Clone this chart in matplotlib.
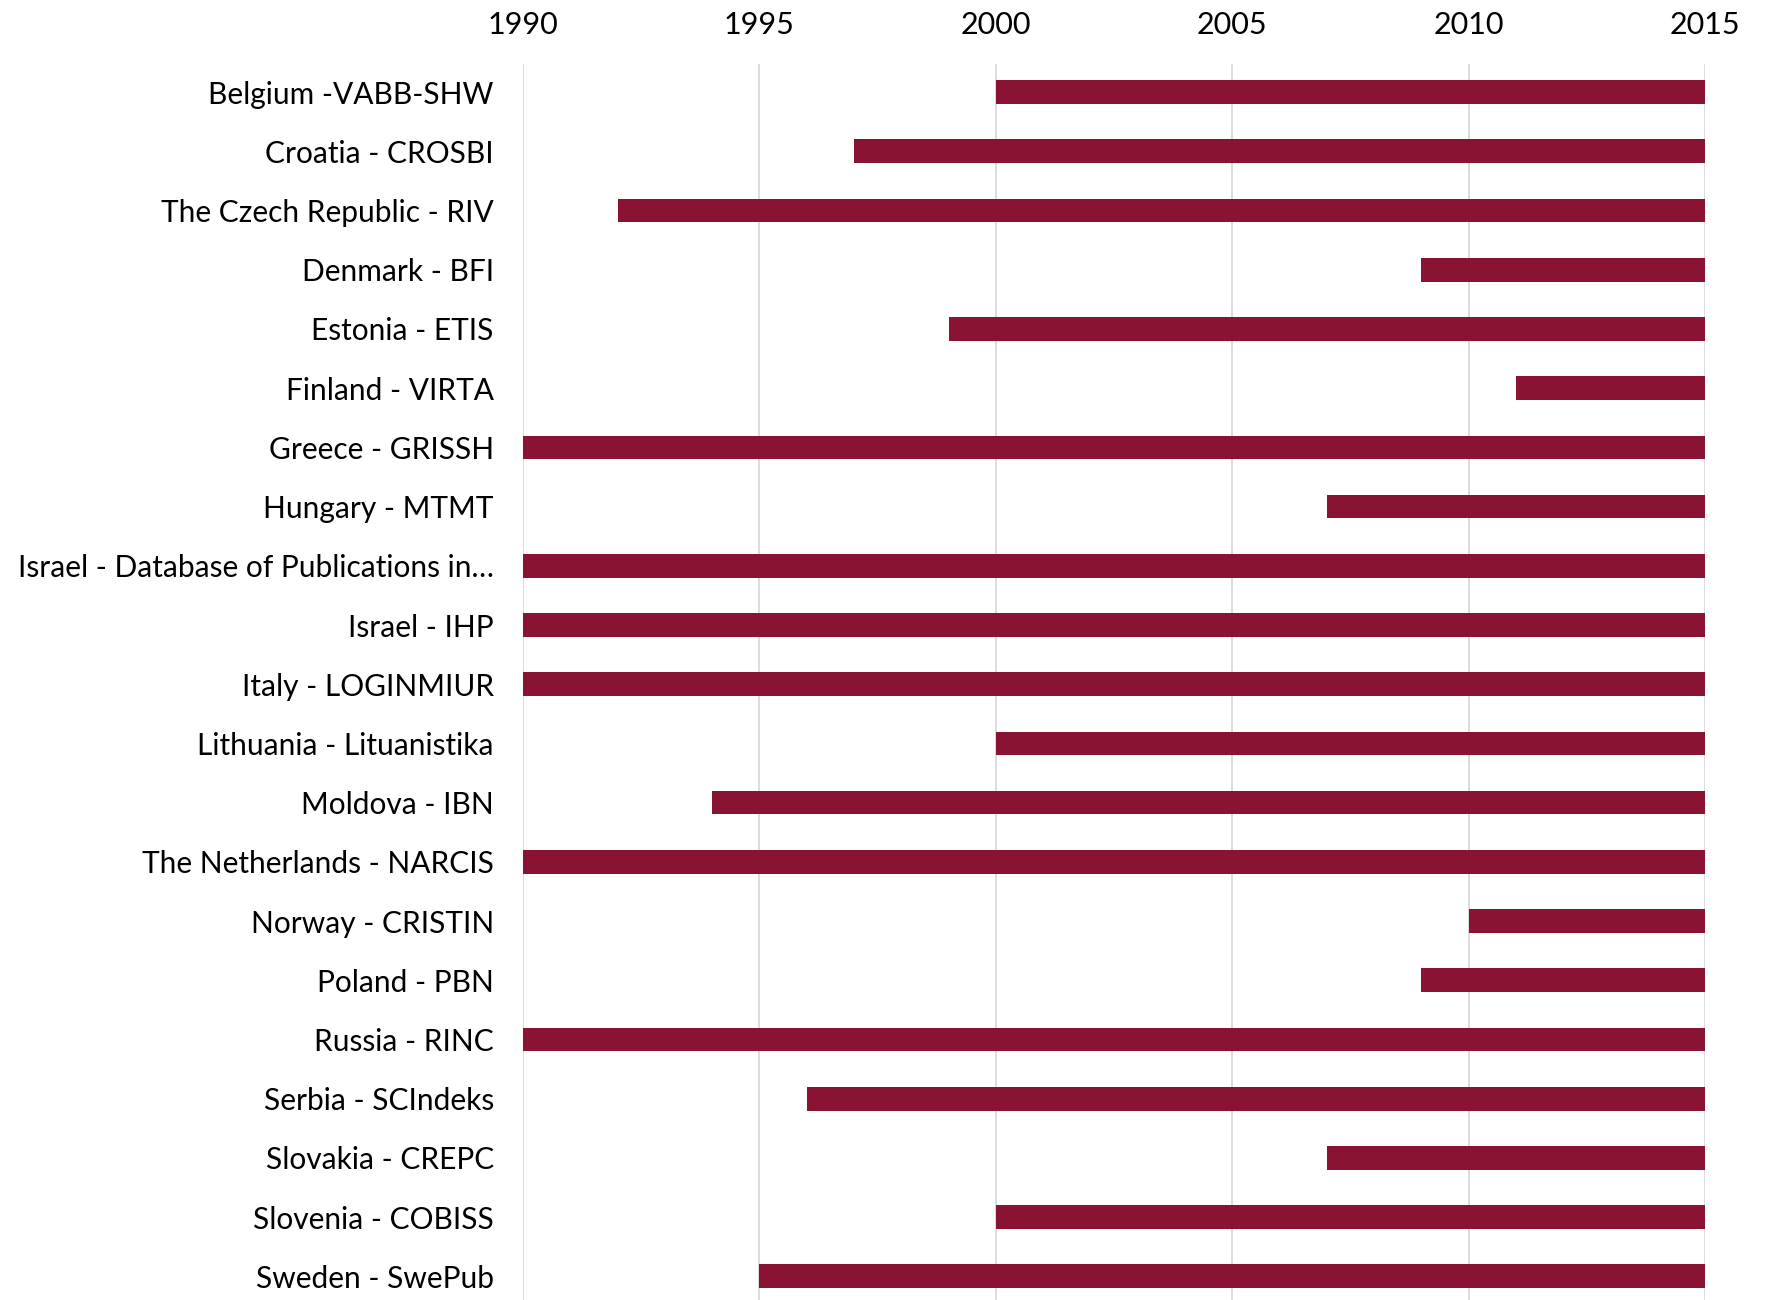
import numpy as np
import matplotlib
matplotlib.use("Agg")
import matplotlib.pyplot as plt

labels = ["Belgium -VABB-SHW", "Croatia - CROSBI", "The Czech Republic - RIV",
          "Denmark - BFI", "Estonia - ETIS", "Finland - VIRTA", "Greece - GRISSH",
          "Hungary - MTMT", "Israel - Database of Publications in…", "Israel - IHP",
          "Italy - LOGINMIUR", "Lithuania - Lituanistika", "Moldova - IBN",
          "The Netherlands - NARCIS", "Norway - CRISTIN", "Poland - PBN",
          "Russia - RINC", "Serbia - SCIndeks", "Slovakia - CREPC",
          "Slovenia - COBISS", "Sweden - SwePub"]
start_year = [2000, 1997, 1992, 2009, 1999, 2011, 1990, 2007, 1990, 1990, 1990,
              2000, 1994, 1990, 2010, 2009, 1990, 1996, 2007, 2000, 1995]
end_year = [2015] * len(labels)
year_ticks = [1990, 1995, 2000, 2005, 2010, 2015]

plt.rcParams['font.family'] = ['Lato', 'DejaVu Sans']

fig = plt.figure(figsize=(17.67, 13), dpi=100)
ax = fig.add_axes([0.296, 0.0, 0.669, 0.951])

y = np.arange(len(labels))
start = np.array(start_year)
width = np.array(end_year) - start
ax.barh(y, width, left=start, height=0.4, color='#8A1233', zorder=3)

ax.set_xlim(1990, 2015)
ax.set_ylim(len(labels) - 0.6, -0.48)
ax.set_xticks(year_ticks)
ax.set_yticks(y)
ax.set_yticklabels(labels)
ax.xaxis.tick_top()
ax.tick_params(axis='both', length=0, labelsize=21.5, colors='black')
ax.tick_params(axis='y', pad=21)
ax.tick_params(axis='x', labelsize=22, pad=18)
ax.grid(axis='x', color='#D9D9D9', linewidth=1.3, zorder=0)
for s in ax.spines.values():
    s.set_visible(False)

fig.savefig("out.png", dpi=100)
